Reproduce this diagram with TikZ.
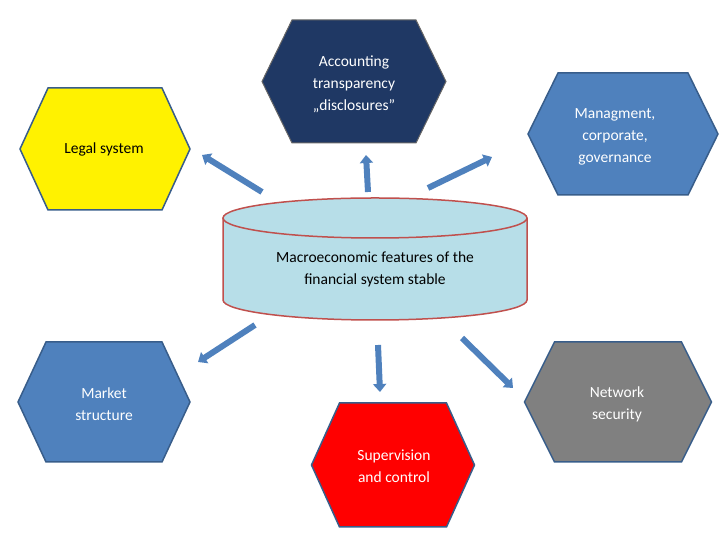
\documentclass[tikz,border=0pt]{standalone}
\usepackage{fontspec}
\setmainfont{Carlito}
\usetikzlibrary{arrows.meta}
\definecolor{navy}{HTML}{1F3864}
\definecolor{bl}{HTML}{4F81BD}
\definecolor{blb}{HTML}{385D8A}
\definecolor{cyl}{HTML}{B7DEE8}
\definecolor{cylb}{HTML}{C0504D}
\newcommand\hexa[6]{% cx cy w h inset style
  \pgfmathsetmacro\hw{#3/2}\pgfmathsetmacro\hh{#4/2}\pgfmathsetmacro\mid{#3-2*#5}
  \draw[#6] (#1-\hw,#2) -- ++(#5,\hh) -- ++(\mid,0) -- ++(#5,-\hh) -- ++(-#5,-\hh) -- ++(-\mid,0) -- cycle;}
\tikzset{lbl/.style={align=center,font=\fontsize{15.5}{22}\selectfont},
  blk/.style={line width=6pt,draw=bl,-{Triangle[width=13pt,length=8pt]}}}
\begin{document}
\begin{tikzpicture}[x=1pt,y=1pt]
\useasboundingbox (0,0) rectangle (720,540);
\hexa{354}{458.5}{184}{123}{30}{fill=navy,draw=black!60,line width=1pt}
\hexa{105}{391}{170}{122}{28}{fill=yellow,draw=blb,line width=1.5pt}
\hexa{623}{406}{190}{122}{30}{fill=bl,draw=blb,line width=1.5pt}
\hexa{104}{138}{172}{120}{28}{fill=bl,draw=blb,line width=1.5pt}
\hexa{618}{138}{187}{120}{30}{fill=gray,draw=blb,line width=1.5pt}
\hexa{393}{75}{163}{124}{28}{fill=red,draw=blb,line width=1.5pt}
\node[lbl,text=white] (acc) at (354,456) {Accounting\\transparency\\„disclosures"};
\node[lbl] (leg) at (104,391) {Legal system};
\node[lbl,text=white] (man) at (615,403) {Managment,\\corporate,\\governance};
\node[lbl,text=white] (mar) at (104,136) {Market\\structure};
\node[lbl,text=white] (net) at (617,136) {Network\\security};
\node[lbl,text=white] (sup) at (394,74) {Supervision\\and control};
% cylinder
\draw[fill=cyl,draw=cylb,line width=1.5pt] (223,322) -- (223,240) arc[start angle=180,end angle=360,x radius=152,y radius=20] -- (527,322);
\draw[fill=cyl,draw=cylb,line width=1.5pt] (375,322) ellipse[x radius=152,y radius=20];
\node[lbl] (cy) at (375,271) {Macroeconomic features of the\\financial system stable};
% arrows
\coordinate (a1) at (262,348); \coordinate (b1) at (202,385);
\coordinate (a2) at (368,348); \coordinate (b2) at (366,385);
\coordinate (a3) at (428,352); \coordinate (b3) at (492,383);
\coordinate (a4) at (255,215); \coordinate (b4) at (198,178);
\coordinate (a5) at (378,195); \coordinate (b5) at (380,148);
\coordinate (a6) at (462,202); \coordinate (b6) at (513,152);
\foreach \i in {1,...,6}{\draw[blk] (a\i) -- (b\i);}
\end{tikzpicture}
\end{document}
